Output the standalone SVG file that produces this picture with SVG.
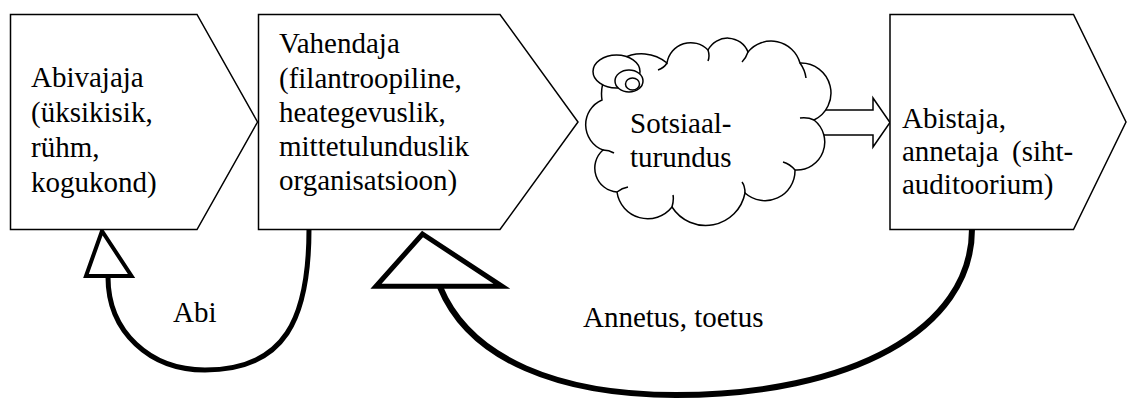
<svg xmlns="http://www.w3.org/2000/svg" width="1127" height="398" viewBox="0 0 1127 398">
<style>
.box{fill:#fff;stroke:#000;stroke-width:1.5;stroke-linejoin:miter}
text, .lbl{font-family:"Liberation Serif","Times New Roman",serif !important;font-size:29px;fill:#000}
.cl{fill:#fff;stroke:#000;stroke-width:1.5}
.cr{fill:none;stroke:#000;stroke-width:1.5}
.arc{fill:none;stroke:#000;stroke-linecap:butt}
.head{fill:#fff;stroke:#000;stroke-linejoin:miter;stroke-miterlimit:12}
</style>
<rect width="1127" height="398" fill="#fff"/>
<g id="connectors">
<path id="block-arrow" class="box" d="M812 110 L873 110 L873 98 L890 122.5 L873 147 L873 135 L812 135 Z"/>
<path id="abi-curve" class="arc" stroke-width="5" d="M309 229 C309 319 285 370 205 370 C150 370 108 332 108 277"/>
<polygon id="abi-head" class="head" stroke-width="4" points="102,231 131.5,276 86,276"/>
<path id="annetus-curve" class="arc" stroke-width="6" d="M972 229 C972 330 850 395 676 395 C560 395 470 360 440 287"/>
<polygon id="annetus-head" class="head" stroke-width="5" points="422.5,234 502,286.3 376,286.3"/>
<text class="lbl" x="173" y="322" style="font-family:'Liberation Serif',serif">Abi</text>
<text class="lbl" x="583" y="327" style="font-family:'Liberation Serif',serif">Annetus, toetus</text>
</g>
<g id="n-abivajaja">
<polygon class="box" points="10.5,14.5 197,14.5 257.5,122 197,229.5 10.5,229.5"/>
<text class="lbl" x="31" y="87" style="font-family:'Liberation Serif',serif">Abivajaja</text>
<text class="lbl" x="31" y="122" style="font-family:'Liberation Serif',serif">(üksikisik,</text>
<text class="lbl" x="31" y="157" style="font-family:'Liberation Serif',serif">rühm,</text>
<text class="lbl" x="31" y="192" style="font-family:'Liberation Serif',serif">kogukond)</text>
</g>
<g id="n-vahendaja">
<polygon class="box" points="258.5,14.5 500,14.5 578,122 500,229.5 258.5,229.5"/>
<text class="lbl" x="279" y="53" style="font-family:'Liberation Serif',serif">Vahendaja</text>
<text class="lbl" x="279" y="87.5" style="font-family:'Liberation Serif',serif">(filantroopiline,</text>
<text class="lbl" x="279" y="122" style="font-family:'Liberation Serif',serif">heategevuslik,</text>
<text class="lbl" x="279" y="156" style="font-family:'Liberation Serif',serif">mittetulunduslik</text>
<text class="lbl" x="279" y="190" style="font-family:'Liberation Serif',serif">organisatsioon)</text>
</g>
<g id="n-sotsiaalturundus">
<path class="cl" d="M602 100 A40 40 0 0 1 667 63 A24 24 0 0 1 708 50 A22 22 0 0 1 748 52 A30 30 0 0 1 800 63 A30 30 0 0 1 814 120 A28 28 0 0 1 795 170 A30 30 0 0 1 745 193 A40 40 0 0 1 672 207 A31 31 0 0 1 617 192 A24 24 0 0 1 603 150 A27 27 0 0 1 602 100 Z"/>
<path class="cr" d="M667 63 Q664 68 658 70 M708 50 Q710 56 708 61 M748 52 Q746 58 742 62 M800 63 Q805 70 806 78 M814 120 Q808 117 800 118 M795 170 Q790 164 783 162 M745 193 Q745 186 742 182 M672 207 Q674 200 673 195 M617 192 Q622 188 628 187 M603 150 Q609 150 614 153"/>
<ellipse class="cl" cx="616.5" cy="71.5" rx="23.5" ry="16.5"/>
<ellipse class="cl" cx="629" cy="81" rx="14" ry="11"/>
<ellipse class="cl" cx="632.5" cy="84" rx="7" ry="6"/>
<text class="lbl" x="630" y="133" style="font-family:'Liberation Serif',serif">Sotsiaal-</text>
<text class="lbl" x="630" y="167" style="font-family:'Liberation Serif',serif">turundus</text>
</g>
<g id="n-abistaja">
<polygon class="box" points="890,14.5 1073.5,14.5 1126,122 1073.5,229.5 890,229.5"/>
<text class="lbl" x="902" y="128" style="font-family:'Liberation Serif',serif">Abistaja,</text>
<text class="lbl" x="902" y="161" style="font-family:'Liberation Serif',serif">annetaja</text>
<text class="lbl" x="1012" y="161" style="font-family:'Liberation Serif',serif">(siht-</text>
<text class="lbl" x="902" y="194" style="font-family:'Liberation Serif',serif">auditoorium)</text>
</g>
</svg>
